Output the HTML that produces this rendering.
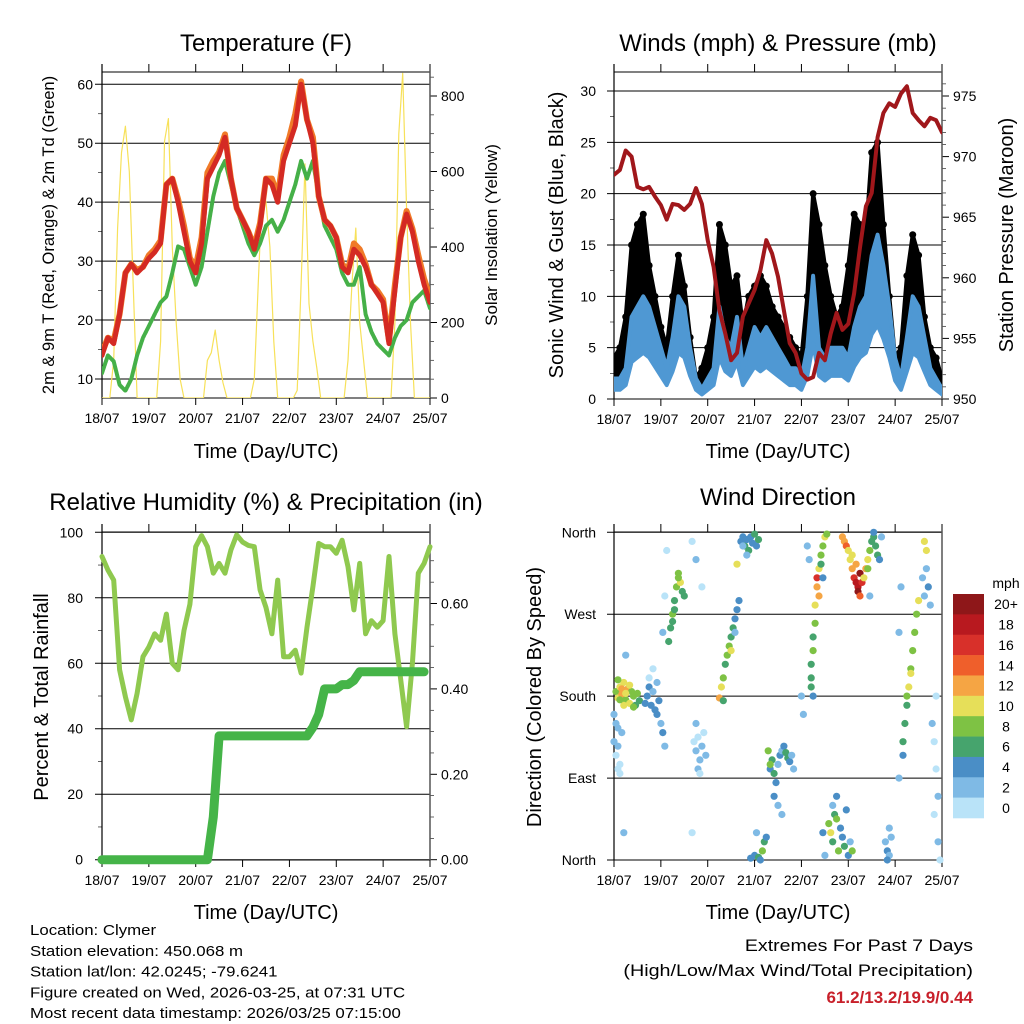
<!DOCTYPE html>
<html><head><meta charset="utf-8"><style>
html,body{margin:0;padding:0;background:#fff;}
svg{display:block;font-family:"Liberation Sans",sans-serif;}
</style></head><body>
<svg id="c" width="1024" height="1024" viewBox="0 0 1024 1024" xmlns="http://www.w3.org/2000/svg"></svg>
<script>
// ---------- data (3-hourly unless noted; hours since 18/07 00UTC) ----------
const dayLabels = ["18/07","19/07","20/07","21/07","22/07","23/07","24/07","25/07"];
const temp2m = [14,17,16,21,28,29.5,28,29,30.5,31.5,33,43,44,40,35,30,28,33,44,46,48,51,44,39,37,35,32,36,44,43,40,47,50,53,60,54,50,41,37,36,34,29,28,32,31,29,26,24.5,23,16,25,34,38,35,30,26,23];
const temp9m = [14.5,17,16.5,21,28,29.5,28.5,29,31,32,33.5,43,44,40.5,36,30.5,29,34,45,47,48.5,51.5,44,39,37,35,32.5,36.5,44,44,41,48,51,55,60.5,54,51,41,37,36,34,29.5,28.5,33,32,29.5,26,25,23.5,16.5,26,34,38.5,35.5,31,27,24];
const dewpt = [11,14,13,9,8,10,14,17,19,21,23,24,28,32.5,32,29,26,29,35,41,45,47,43,39,36,33,31,33,36,37,35,37,40,43,47,44,47,41,36,34,32,28,26,26,29,21,18,16,15,14,17,19,20,23,24,25,22];
// solar, 2-hourly
const solar = [0,0,0,100,450,650,720,600,300,0,0,0, 0,0,0,150,680,740,400,200,50,0,0,0, 0,0,0,100,120,180,100,40,0,0,0,0, 0,0,0,50,300,540,520,400,150,0,0,0, 0,0,20,300,620,250,150,80,0,0,0,0, 0,0,0,100,300,450,200,100,0,0,0,0, 0,0,0,200,700,860,500,200,0,0,0,0,0];
const windSpd = [2,2,3,8,9,10,9,7,5,3,6,10,9,5,2,1,2,3,9,6,5,8,3,5,7,6,7,6,5,4,3,3,2,5,12,5,4,5,5,5,4,7,9,10,14,16,13,9,4,2,6,10,9,6,3,2,1];
const windGust = [4,5,8,15,17,18,13,10,7,5,10,14,11,6,2,3,5,8,17,15,11,12,7,10,11,12,11,9,8,7,6,5,4,10,20,17,13,10,8,9,13,18,17,16,24,25,17,10,4,5,12,16,14,8,5,4,2];
const pressure = [968.5,968.9,970.5,970,967.5,967.3,967.5,966.7,966,964.8,966.1,966,965.6,966.1,967.4,966.1,963.1,960.9,957.3,955.4,953.2,953.8,956.8,957.9,959,960.6,963.1,962,960.1,957.3,954.6,953.8,952.1,951.6,951.8,953.8,953.2,955.4,957.1,955.7,956.2,958.7,962.5,965.9,967,971.6,973.6,974.4,974.1,975.2,975.8,973.6,973,972.5,973.2,973,972];
const rh = [92.6,88.5,85.4,58,49.8,42.7,50.8,62,65,69,67,75,60,58,70,78,95.6,99,95.6,87.5,90.5,87.5,94.6,99.2,97,96,95.6,82.4,77,69,85.4,62,62,64,57,71,83.4,96.6,95.6,95.6,93.6,97.6,89.5,76.3,90.5,69,73,71,73,92.6,69,55,40.6,60,87.5,90.5,95.6];
const precip = [0,0,0,0,0,0,0,0,0,0,0,0,0,0,0,0,0,0,0,0.1,0.29,0.29,0.29,0.29,0.29,0.29,0.29,0.29,0.29,0.29,0.29,0.29,0.29,0.29,0.29,0.29,0.31,0.34,0.40,0.40,0.40,0.41,0.41,0.42,0.44,0.44,0.44,0.44,0.44,0.44,0.44,0.44,0.44,0.44,0.44,0.44];
// wind direction scatter: hour, degrees (0=N,90=E,180=S,270=W), speed mph
const dirHour = [1,2,3,4,5,6,7,8,9,10,11,12,13,2,5,8,4,6,3,10, 0,1,2,3,1,2,3,0,4,2,5,6, 17,18,19,20,21,22,23,24,25,26,18,20,16,22, 28,29,30,31,32,33,34,35,36,30,31,33,26,27,25, 41,42,43,44,45,46,43,47,42,44,40,40,42,45, 54,55,56,57,58,59,60,61,62,63,64,56,60,62, 65,66,67,68,69,70,71,72,73,74,68,66,63, 70,72,74,76,77,75,73,78, 80,81,82,83,84,85,86,87,88,89,90,91,92,82,84,86,79,80, 101,101,102,102,103,103,101,102,96,97, 104,104,105,105,106,107,108,109,106,107,99,100, 110,111,112,113,114,115,116,117,118,119,120,121,122,114,112,108,107, 117,118,119,120,121,122,123,124,125,126,127,128,129,130,125,124,122,126, 131,132,133,134,135,136,130,133,137,131, 139,140,141,142,140,141, 148,149,150,151,152,153,154,155,156,150,152,148,146,146,147, 158,159,160,161,162,163,164,165,166,164,166,167,165,160,159];
const dirDeg = [185,178,190,182,195,176,188,172,185,180,170,183,175,198,170,192,188,183,176,168, 130,115,145,105,150,125,95,160,140,100,30,225, 180,190,170,185,165,195,175,150,140,125,200,210,172,160, 240,255,270,285,300,315,305,295,290,262,275,310,290,340,250, 130,120,135,110,125,140,100,115,150,95,30,350,330,300, 178,190,200,215,225,235,245,255,265,275,285,175,230,250, 350,355,345,352,340,355,348,358,345,352,335,345,325, 2,5,3,10,20,0,30,25, 100,110,95,85,105,115,120,125,118,112,108,115,100,70,60,50,120,105, 200,215,230,245,260,280,190,180,180,160, 310,300,320,290,335,345,355,358,325,310,345,330, 40,30,20,50,45,10,35,25,15,55,5,20,10,70,60,5,30, 355,350,345,340,330,320,310,305,300,315,305,310,320,330,295,325,335,290, 340,350,355,345,335,330,320,360,355,290, 20,10,5,25,0,35, 130,150,170,190,210,230,250,270,285,180,205,115,90,250,300, 310,290,320,300,280,150,130,100,70,50,20,0,180,340,350];
const dirSpd = [9,10,11,12,10,9,12,10,8,9,7,8,7,8,11,11,13,10,8,8, 2,1,2,1,3,2,1,3,2,1,3,3, 4,4,5,3,4,2,4,3,4,2,1,1,5,4, 7,6,8,7,9,8,10,6,6,6,7,9,1,1,2, 1,2,1,3,2,1,2,3,2,1,1,1,2,1, 12,10,8,7,9,8,7,6,4,5,4,6,10,3, 5,4,6,5,6,4,5,6,4,6,3,3,11, 4,5,6,8,7,5,3,4, 5,7,6,4,3,4,3,5,6,6,4,3,2,4,3,2,9,8, 6,7,8,7,9,10,6,4,2,2, 16,12,10,13,8,9,10,9,6,4,2,3, 8,10,7,6,8,9,5,4,6,4,4,3,8,4,3,3,4, 13,12,14,10,11,12,17,19,18,20,16,11,12,10,21,13,10,15, 8,7,6,7,6,5,8,5,3,3, 3,4,3,2,4,3, 6,6,7,10,9,8,8,9,10,8,10,5,2,2,2, 3,2,3,4,2,2,1,1,2,1,2,1,1,11,10];
const cbLabels = ["20+","18","16","14","12","10","8","6","4","2","0"];
const cbColors = ["#8e1719","#b8191f","#d8302a","#ef5f2b","#f5a544","#e6df59","#7ec244","#46a46d","#4a8ec6","#7fbae5","#b9e3f8"];

// ---------- helpers ----------
const svg = document.getElementById('c');
const NS = "http://www.w3.org/2000/svg";
function mk(tag, attrs, parent){ const e=document.createElementNS(NS,tag); for(const k in attrs) e.setAttribute(k,attrs[k]); (parent||svg).appendChild(e); return e; }
function txt(s, x, y, size, anchor, parent, extra){ const e=mk('text',Object.assign({x:x,y:y,'font-size':size,'text-anchor':anchor||'middle',fill:'#000'},extra||{}),parent); e.textContent=s; return e; }
function lin(d0,d1,r0,r1){ return v=>r0+(v-d0)*(r1-r0)/(d1-d0); }

function frame(p, name){
  const g = mk('g',{});
  
  
  const X = lin(0,168,p.x0,p.x1);
  for(let i=0;i<dayLabels.length;i++){
    const x = X(i*24);
    mk('line',{x1:x,y1:p.yb,x2:x,y2:p.yb+7,stroke:'#000','stroke-width':1},g);
    mk('line',{x1:x,y1:p.yt,x2:x,y2:p.yt-8,stroke:'#000','stroke-width':1},g);
    const t = txt(dayLabels[i], x, p.yb+25, 14, 'middle', g);
    
    
  }
  return {g, X};
}
function leftAxis(g,p,Y,ticks,minor,labels,lx){
  minor.forEach(v=>{ const y=Y(v); mk('line',{x1:p.x0-4,y1:y,x2:p.x0,y2:y,stroke:'#000','stroke-width':0.6},g); });
  ticks.forEach((v,i)=>{ const y=Y(v);
    mk('line',{x1:p.x0-7,y1:y,x2:p.x1,y2:y,stroke:'#000','stroke-width':1},g);
    const t=txt(labels[i], lx, y+5, 14, 'end', g);
    
     });
}
function rightAxis(g,p,Y,ticks,minor,labels){
  minor.forEach(v=>{ const y=Y(v); mk('line',{x1:p.x1,y1:y,x2:p.x1+4,y2:y,stroke:'#000','stroke-width':0.6},g); });
  ticks.forEach((v,i)=>{ const y=Y(v);
    mk('line',{x1:p.x1,y1:y,x2:p.x1+7,y2:y,stroke:'#000','stroke-width':1},g);
    const t=txt(labels[i], p.x1+11, y+5, 14, 'start', g);
    
     });
}
function box(g,p){
  mk('line',{x1:p.x0,y1:p.yt,x2:p.x1,y2:p.yt,stroke:'#000','stroke-width':1},g);
  mk('line',{x1:p.x0,y1:p.yb,x2:p.x1,y2:p.yb,stroke:'#000','stroke-width':1},g);
  mk('line',{x1:p.x0,y1:p.yt-8,x2:p.x0,y2:p.yb,stroke:'#000','stroke-width':1.2},g);
  mk('line',{x1:p.x1,y1:p.yt-8,x2:p.x1,y2:p.yb,stroke:'#555','stroke-width':1.5},g);
}
function poly(arr, step, X, Y, color, w, name, parent){
  const pts = arr.map((v,i)=>X(i*step).toFixed(1)+','+Y(v).toFixed(1)).join(' ');
  const e = mk('polyline',{points:pts,fill:'none',stroke:color,'stroke-width':w,'stroke-linejoin':'round','stroke-linecap':'round'},parent);
  
  
  return e;
}
function band(lo, hi, step, X, Y, color, name, parent){
  const up = hi.map((v,i)=>X(i*step).toFixed(1)+','+Y(v).toFixed(1));
  const dn = lo.map((v,i)=>X(i*step).toFixed(1)+','+Y(v).toFixed(1)).reverse();
  const e = mk('polygon',{points:up.concat(dn).join(' '),fill:color,stroke:color,'stroke-width':4,'stroke-linejoin':'round'},parent);
  
  
  return e;
}
function vtitle(s,x,y,size,name){ const t=txt(s,0,0,size,'middle',svg,{transform:`translate(${x},${y}) rotate(-90)`});   }
function title(s,x,y,size,name){ const t=txt(s,x,y,size,'middle');   return t; }

// ---------- Panel 1: temperature ----------
(function(){
  const p={x0:102,x1:430,yt:72,yb:398};
  const {g,X}=frame(p,'temperature');
  const Y=lin(10,60,379,84.3), YS=lin(0,800,398,96);
  const cp=mk('clipPath',{id:'tc'}); mk('rect',{x:p.x0,y:p.yt,width:p.x1-p.x0,height:p.yb-p.yt},cp);
  const dg=mk('g',{'clip-path':'url(#tc)'});
  poly(solar,2,X,YS,'#f7e15a',1.2,'solar-insolation-line',dg);
  poly(dewpt,3,X,Y,'#45b048',4,'dewpoint-line',dg).setAttribute('stroke-dasharray','3 1');
  poly(temp9m,3,X,Y,'#f07a28',6,'temp-9m-line',dg);
  poly(temp2m,3,X,Y,'#d42a23',5,'temp-2m-line',dg);
  leftAxis(g,p,Y,[10,20,30,40,50,60],[15,25,35,45,55],["10","20","30","40","50","60"],93);
  rightAxis(g,p,YS,[0,200,400,600,800],[50,100,150,250,300,350,450,500,550,650,700,750,850],["0","200","400","600","800"]);
  box(g,p);
  title('Temperature (F)',266,51,24,'temperature-title');
  title('Time (Day/UTC)',266,458,20,'temperature-x-title');
  vtitle('2m & 9m T (Red, Orange) & 2m Td (Green)',54,235,16.5,'temperature-y-title');
  vtitle('Solar Insolation (Yellow)',497,235,17,'solar-y-title');
})();

// ---------- Panel 2: winds ----------
(function(){
  const p={x0:614,x1:942,yt:72,yb:399};
  const {g,X}=frame(p,'winds');
  const Y=lin(0,30,399,91), YP=lin(950,975,399,96);
  const cp=mk('clipPath',{id:'wc'}); mk('rect',{x:p.x0,y:p.yt,width:p.x1-p.x0,height:p.yb-p.yt},cp);
  const dg=mk('g',{'clip-path':'url(#wc)'});
  band(windSpd,windGust,3,X,Y,'#000','gust-band',dg);
  windGust.forEach((v,i)=>{ const c=mk('circle',{cx:X(i*3),cy:Y(v),r:3.5,fill:'#000'},dg);
    
     });
  const lo = windSpd.map(v=>v*0.45);
  band(lo,windSpd,3,X,Y,'#4f98d3','wind-speed-band',dg);
  poly(pressure,3,X,YP,'#a0171b',4,'pressure-line',dg);
  leftAxis(g,p,Y,[0,5,10,15,20,25,30],[2.5,7.5,12.5,17.5,22.5,27.5],["0","5","10","15","20","25","30"],596);
  rightAxis(g,p,YP,[950,955,960,965,970,975],[951,952,953,954,956,957,958,959,961,962,963,964,966,967,968,969,971,972,973,974,976],["950","955","960","965","970","975"]);
  box(g,p);
  title('Winds (mph) & Pressure (mb)',778,51,24,'winds-title');
  title('Time (Day/UTC)',778,458,20,'winds-x-title');
  vtitle('Sonic Wind & Gust (Blue, Black)',563,235,20,'wind-y-title');
  vtitle('Station Pressure (Maroon)',1013,235,20,'pressure-y-title');
})();

// ---------- Panel 3: RH & precip ----------
(function(){
  const p={x0:102,x1:430,yt:532,yb:860};
  const {g,X}=frame(p,'humidity');
  const Y=lin(0,100,859.7,532.3), YR=lin(0,0.2,859.7,774.3);
  leftAxis(g,p,Y,[0,20,40,60,80,100],[10,30,50,70,90],["0","20","40","60","80","100"],83);
  rightAxis(g,p,YR,[0,0.2,0.4,0.6],[0.05,0.1,0.15,0.25,0.3,0.35,0.45,0.5,0.55,0.65,0.7],["0.00","0.20","0.40","0.60"]);
  box(g,p);
  poly(rh,3,X,Y,'#8fc94f',5,'humidity-line');
  poly(precip,3,X,YR,'#45b448',9,'precip-line');
  title('Relative Humidity (%) & Precipitation (in)',266,510,24,'humidity-title');
  title('Time (Day/UTC)',266,919,20,'humidity-x-title');
  vtitle('Percent & Total Rainfall',48,697,20,'humidity-y-title');
})();

// ---------- Panel 4: wind direction ----------
(function(){
  const p={x0:614,x1:942,yt:532,yb:860};
  const {g,X}=frame(p,'direction');
  const Y=lin(0,360,860,532.3);
  leftAxis(g,p,Y,[0,90,180,270,360],[],["North","East","South","West","North"],596);
  box(g,p);
  const dg=mk('g',{});
  
  
  function col(s){ const b=Math.min(10,Math.floor(s/2)); return cbColors[10-b]; }
  dirHour.forEach((h,i)=>{ const c=mk('circle',{cx:X(h).toFixed(1),cy:Y(dirDeg[i]).toFixed(1),r:3.6,fill:col(dirSpd[i])},dg);
    
     });
  const cb=mk('g',{});
  
  
  const h=(818-594)/cbColors.length;
  cbColors.forEach((c,i)=>{ mk('rect',{x:953,y:594+i*h,width:31,height:h+0.3,fill:c},cb);
    const t=txt(cbLabels[i],1006,594+i*h+h/2+5,14,'middle',cb);
    
     });
  const m=txt('mph',1006,588,14,'middle',cb);
  
  
  title('Wind Direction',778,505,24,'direction-title');
  title('Time (Day/UTC)',778,919,20,'direction-x-title');
  vtitle('Direction (Colored By Speed)',541,697,20,'direction-y-title');
})();

// ---------- footer ----------
const foot=["Location: Clymer","Station elevation: 450.068 m","Station lat/lon: 42.0245; -79.6241","Figure created on Wed, 2026-03-25, at 07:31 UTC","Most recent data timestamp: 2026/03/25 07:15:00"];
foot.forEach((s,i)=>{ const t=txt(s,30,935+i*20.8,15,'start');
  
  
  t.setAttribute('textLength', (t.getComputedTextLength()*1.12).toFixed(1));
  t.setAttribute('lengthAdjust','spacingAndGlyphs'); });
let t1=txt('Extremes For Past 7 Days',973,951,17,'end');


t1.setAttribute('textLength', (t1.getComputedTextLength()*1.15).toFixed(1));
t1.setAttribute('lengthAdjust','spacingAndGlyphs');
let t2=txt('(High/Low/Max Wind/Total Precipitation)',973,976,17,'end');


t2.setAttribute('textLength', (t2.getComputedTextLength()*1.16).toFixed(1));
t2.setAttribute('lengthAdjust','spacingAndGlyphs');
let t3=txt('61.2/13.2/19.9/0.44',973,1003,17,'end',svg,{fill:'#c8202a','font-weight':'bold'});


</script>
</body></html>
